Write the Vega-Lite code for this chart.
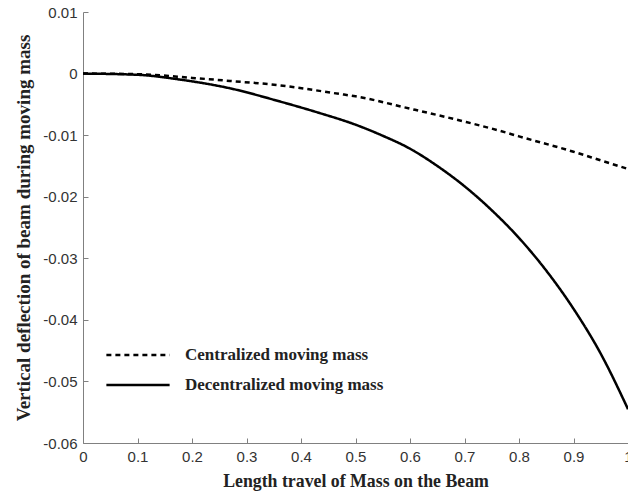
{
  "$schema": "https://vega.github.io/schema/vega-lite/v6.json",
  "width": 545,
  "height": 431,
  "autosize": {"type": "none"},
  "padding": {"left": 83, "top": 12, "right": 0, "bottom": 53},
  "background": "white",
  "config": {
    "view": {"stroke": null},
    "axis": {
      "domainColor": "#808080",
      "tickColor": "#808080",
      "grid": false,
      "labelFont": "Liberation Sans",
      "labelFontSize": 15,
      "labelColor": "#333333",
      "titleFont": "Liberation Serif",
      "titleFontWeight": "bold",
      "titleColor": "#222222"
    }
  },
  "data": {
    "values": [
      {"x": 0, "y": 0, "s": "Centralized moving mass"},
      {"x": 0.1, "y": -0.0001, "s": "Centralized moving mass"},
      {"x": 0.2, "y": -0.0007, "s": "Centralized moving mass"},
      {"x": 0.27, "y": -0.0012, "s": "Centralized moving mass"},
      {"x": 0.36, "y": -0.0019, "s": "Centralized moving mass"},
      {"x": 0.47, "y": -0.0033, "s": "Centralized moving mass"},
      {"x": 0.5, "y": -0.0037, "s": "Centralized moving mass"},
      {"x": 0.6, "y": -0.0057, "s": "Centralized moving mass"},
      {"x": 0.7, "y": -0.0078, "s": "Centralized moving mass"},
      {"x": 0.765, "y": -0.0093, "s": "Centralized moving mass"},
      {"x": 0.8, "y": -0.0102, "s": "Centralized moving mass"},
      {"x": 0.9, "y": -0.0127, "s": "Centralized moving mass"},
      {"x": 0.95, "y": -0.0141, "s": "Centralized moving mass"},
      {"x": 1.0, "y": -0.0155, "s": "Centralized moving mass"},
      {"x": 0, "y": 0, "s": "Decentralized moving mass"},
      {"x": 0.1, "y": -0.0002, "s": "Decentralized moving mass"},
      {"x": 0.18, "y": -0.001, "s": "Decentralized moving mass"},
      {"x": 0.27, "y": -0.0024, "s": "Decentralized moving mass"},
      {"x": 0.36, "y": -0.0045, "s": "Decentralized moving mass"},
      {"x": 0.43, "y": -0.0063, "s": "Decentralized moving mass"},
      {"x": 0.5, "y": -0.0083, "s": "Decentralized moving mass"},
      {"x": 0.55, "y": -0.0101, "s": "Decentralized moving mass"},
      {"x": 0.6, "y": -0.0122, "s": "Decentralized moving mass"},
      {"x": 0.65, "y": -0.015, "s": "Decentralized moving mass"},
      {"x": 0.7, "y": -0.0183, "s": "Decentralized moving mass"},
      {"x": 0.75, "y": -0.0222, "s": "Decentralized moving mass"},
      {"x": 0.8, "y": -0.0267, "s": "Decentralized moving mass"},
      {"x": 0.85, "y": -0.032, "s": "Decentralized moving mass"},
      {"x": 0.9, "y": -0.0382, "s": "Decentralized moving mass"},
      {"x": 0.95, "y": -0.0455, "s": "Decentralized moving mass"},
      {"x": 1.0, "y": -0.0545, "s": "Decentralized moving mass"}
    ]
  },
  "mark": {"type": "line", "color": "black", "strokeWidth": 2.5, "interpolate": "monotone", "clip": false},
  "encoding": {
    "x": {
      "field": "x", "type": "quantitative",
      "scale": {"domain": [0, 1], "nice": false, "zero": false},
      "axis": {
        "title": "Length travel of Mass on the Beam",
        "titleFontSize": 17.8,
        "titlePadding": 8,
        "values": [0, 0.1, 0.2, 0.3, 0.4, 0.5, 0.6, 0.7, 0.8, 0.9, 1],
        "format": "~g",
        "tickSize": -5,
        "labelPadding": 11,
        "labelFlush": false,
        "labelOverlap": false
      }
    },
    "y": {
      "field": "y", "type": "quantitative",
      "scale": {"domain": [-0.06, 0.01], "nice": false, "zero": false},
      "axis": {
        "title": "Vertical deflection of beam during moving mass",
        "titleFontSize": 19,
        "titlePadding": 9,
        "values": [0.01, 0, -0.01, -0.02, -0.03, -0.04, -0.05, -0.06],
        "labelExpr": "(datum.value < -0.000001 ? '-' : '') + format(abs(datum.value), '~g')",
        "tickSize": -5,
        "labelPadding": 11,
        "labelFlush": false,
        "labelOverlap": false
      }
    },
    "strokeDash": {
      "field": "s", "type": "nominal",
      "scale": {"domain": ["Centralized moving mass", "Decentralized moving mass"], "range": [[5, 4], [1, 0]]},
      "legend": {
        "title": null,
        "orient": "none",
        "legendX": 22,
        "legendY": 333,
        "symbolType": "stroke",
        "symbolSize": 4000,
        "symbolStrokeWidth": 2.5,
        "symbolStrokeColor": "black",
        "clipHeight": 20,
        "rowPadding": 10,
        "labelFont": "Liberation Serif",
        "labelFontWeight": "bold",
        "labelFontSize": 17,
        "labelColor": "#222222",
        "labelOffset": 14,
        "labelLimit": 400
      }
    }
  }
}
